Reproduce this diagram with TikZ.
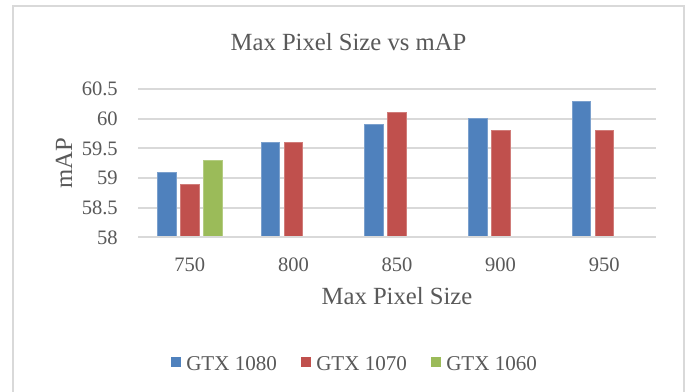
\documentclass[tikz,border=0pt]{standalone}
\usepackage{fontspec}
\setmainfont{Liberation Serif}
\definecolor{barblue}{HTML}{4F81BD}
\definecolor{barred}{HTML}{C0504D}
\definecolor{bargreen}{HTML}{9BBB59}
\definecolor{gridgray}{HTML}{D9D9D9}
\definecolor{framegray}{HTML}{D9D9D9}
\definecolor{txtgray}{HTML}{595959}
\begin{document}
\begin{tikzpicture}[x=0.75pt,y=-0.75pt,
  txt/.style={inner sep=0pt,text=txtgray},
  ticklbl/.style={txt,font=\fontsize{15.4}{18}\selectfont},
  axtitle/.style={txt,font=\fontsize{18.5}{22}\selectfont},
  legtxt/.style={txt,font=\fontsize{15.8}{18}\selectfont,anchor=base west},
  gridline/.style={draw=gridgray,line width=1.5pt},
  bar/.style={line width=0.4pt}]
\useasboundingbox (0,0) rectangle (686,392);
\fill[white] (0,0) rectangle (686,392);
% chart frame (open at the bottom)
\draw[framegray,line width=1.5pt] (13,392) -- (13,6) -- (684,6) -- (684,392);

% plot geometry: x from 138 to 656, value 58 at y=237.5, 59.4px per unit
\def\xl{138}\def\xr{656}\def\yz{237.5}\def\ys{59.4}
\def\cw{103.6}\def\bw{18.5}\def\bs{23}

% horizontal gridlines and y tick labels
\foreach \v/\lbl [count=\k] in {58/58,58.5/58.5,59/59,59.5/59.5,60/60,60.5/60.5}{
  \draw[gridline] (\xl,{\yz-(\v-58)*\ys}) -- (\xr,{\yz-(\v-58)*\ys});
  \node[ticklbl,anchor=east] (yt\k) at (118,{\yz-(\v-58)*\ys}) {\lbl};
}

% bars: category index / series index / value / colour
\foreach \c/\s/\v/\col in {0/0/59.1/barblue,0/1/58.9/barred,0/2/59.3/bargreen,
                           1/0/59.6/barblue,1/1/59.6/barred,
                           2/0/59.9/barblue,2/1/60.1/barred,
                           3/0/60.0/barblue,3/1/59.8/barred,
                           4/0/60.3/barblue,4/1/59.8/barred}{
  \pgfmathsetmacro\bc{\xl+\cw*(\c+0.5)+(\s-1)*\bs}
  \filldraw[bar,fill=\col,draw=\col!75!white]
    ({\bc-\bw/2},\yz) rectangle ({\bc+\bw/2},{\yz-(\v-58)*\ys});
}
% baseline drawn over the bar feet
\draw[gridline] (\xl,\yz) -- (\xr,\yz);

% category labels
\foreach \lbl [count=\k from 0] in {750,800,850,900,950}{
  \node[ticklbl,anchor=base] (xt\k) at ({\xl+\cw*(\k+0.5)},272) {\lbl};
}

% titles
\node[axtitle,anchor=base] (title) at (348.5,51) {Max Pixel Size vs mAP};
\node[axtitle,anchor=base] (xtitle) at (397,305) {Max Pixel Size};
\node[axtitle,anchor=base,rotate=90] (ytitle) at (72,163) {mAP};

% legend
\foreach \col/\lbl/\lx [count=\k] in {barblue/GTX 1080/171,barred/GTX 1070/301,bargreen/GTX 1060/431}{
  \fill[\col] (\lx,357) rectangle ++(10,10);
  \node[legtxt] (leg\k) at (\lx+15,370) {\lbl};
}
\end{tikzpicture}
\end{document}
